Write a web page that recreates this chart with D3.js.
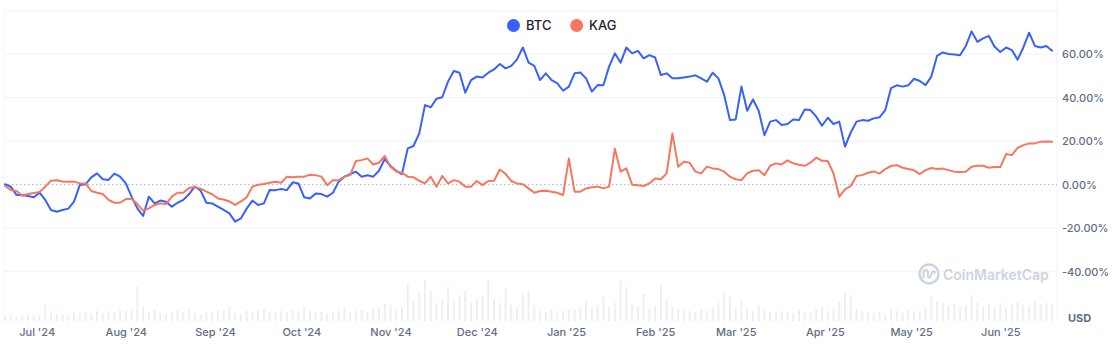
<!DOCTYPE html>
<html><head><meta charset="utf-8">
<script src="https://cdn.jsdelivr.net/npm/d3@7/dist/d3.min.js"></script>
<style>
html,body{margin:0;padding:0;background:#fff;}
svg{display:block;font-family:Inter,"Noto Sans",sans-serif;}
</style>
</head><body>
<svg id="chart" width="1112" height="348"></svg>
<script>
// ---------- DATA ----------
const startDate = "2024-06-20";
const endDate = "2025-06-20";
const stepDays = 2;
const seriesNames = ["BTC", "KAG"];

// % change since start, sampled every 2 days
const btc = [0.2,-0.9,-4.7,-4.7,-5.2,-5.8,-3.7,-7.0,-11.6,-12.4,-11.6,-11.0,-7.8,-0.1,0.2,3.4,5.2,2.5,2.2,5.1,
3.7,0.6,-5.5,-10.9,-14.4,-5.5,-8.6,-7.3,-7.8,-10.1,-8.3,-7.0,-4.3,-0.8,-2.7,-8.3,-8.6,-10.1,-11.6,-13.2,
-17.0,-15.5,-11.0,-7.3,-9.3,-8.6,-2.4,-2.5,-2.0,-2.5,1.1,0.6,-5.8,-6.3,-4.0,-4.3,-5.5,-3.7,1.4,3.7,
4.9,6.0,3.7,4.3,3.7,6.4,11.8,8.6,6.4,4.9,16.7,17.8,23.6,36.6,35.6,39.5,40.2,47.4,52.3,51.5,
42.3,48.1,49.7,49.3,51.5,53.0,55.5,53.5,54.6,57.6,63.1,56.1,54.6,48.1,51.2,48.1,46.6,43.2,45.1,51.2,
51.6,48.9,42.8,45.8,45.7,54.3,60.4,56.1,63.1,60.4,61.5,58.1,59.6,58.5,50.4,51.2,48.9,48.9,49.3,49.7,
50.3,48.9,47.4,51.5,48.9,41.2,29.7,30.0,45.1,34.0,39.2,34.0,22.8,29.0,29.7,27.4,27.9,30.0,29.7,34.6,
34.3,31.3,27.1,30.8,27.9,29.0,17.5,24.0,29.0,29.7,29.4,30.5,31.0,34.3,44.4,45.7,45.1,45.7,48.7,47.7,
45.8,49.7,59.2,60.8,60.1,59.9,59.5,63.8,70.5,65.7,67.3,68.4,63.4,61.0,63.1,61.9,57.5,63.1,69.9,63.8,
63.1,63.8,61.6];

const kag = [-0.6,-2.4,-2.9,-5.1,-4.3,-3.8,-3.4,-0.9,1.8,2.0,1.5,1.4,1.4,0.6,0.6,-2.9,-3.7,-4.3,-7.0,-8.3,
-8.3,-6.6,-6.6,-8.9,-11.9,-10.9,-9.3,-8.6,-8.9,-5.5,-3.7,-3.7,-1.5,-1.1,-1.8,-3.2,-4.4,-6.3,-6.8,-7.7,
-9.3,-7.7,-5.8,-0.9,0.0,0.3,0.9,1.4,0.9,3.7,3.4,3.7,3.7,4.6,4.4,3.7,-0.2,2.1,2.1,3.7,
4.4,10.9,11.3,12.1,9.3,10.1,13.2,8.3,6.1,5.5,3.7,3.4,1.8,0.6,3.7,-0.9,4.0,0.6,2.1,1.4,
-0.9,-0.9,1.7,-0.2,1.7,1.8,7.0,5.0,1.7,0.6,0.2,-1.7,-3.7,-2.9,-2.8,-3.2,-3.7,-4.8,12.0,-3.2,
-3.2,-1.7,-1.2,-0.9,-1.7,-0.9,16.5,6.0,7.5,0.0,-0.3,-0.6,0.6,2.9,2.5,5.2,23.5,8.3,10.6,10.1,
6.0,5.2,8.3,7.5,7.2,6.0,3.7,2.5,2.1,5.2,6.4,6.6,4.4,8.7,9.8,9.3,11.2,9.8,9.2,8.7,
10.1,12.4,11.0,10.9,5.2,-5.5,-2.1,-0.6,4.0,4.4,5.5,6.1,5.1,7.2,8.6,9.0,7.8,7.2,6.6,4.9,
6.7,7.7,7.2,7.4,6.7,6.0,5.8,6.0,8.3,8.7,8.7,7.8,8.1,8.1,14.1,13.6,16.9,18.2,19.0,19.0,
19.8,19.9,19.8];

// trading volume (billion USD), same 2-day sampling
const volume = [4,6,4,5,6,5,7,16,8,6,7,6,8,7,9,7,10,8,10,9,
11,10,12,34,14,9,11,8,7,9,11,9,12,8,7,9,8,10,11,15,
8,7,10,9,11,12,9,8,10,9,11,10,14,10,8,9,7,8,10,14,
9,10,11,9,12,14,17,16,12,14,37,20,28,41,30,18,22,34,20,26,
30,18,22,25,41,22,18,33,16,14,28,30,16,10,9,11,8,10,12,11,
14,20,13,16,24,14,18,40,34,16,14,27,12,15,36,22,15,13,12,10,
9,11,10,14,18,29,25,12,21,13,10,16,12,9,8,10,9,8,11,9,
8,12,14,10,13,20,29,26,12,10,9,8,9,7,12,10,8,11,9,10,
14,24,20,18,15,17,14,16,26,18,14,17,15,18,14,17,19,16,15,20,
17,18,16];

const monthTicks = ["2024-07-01","2024-08-01","2024-09-01","2024-10-01","2024-11-01","2024-12-01",
  "2025-01-01","2025-02-01","2025-03-01","2025-04-01","2025-05-01","2025-06-01"];
const yTickValues = [-40, -20, 0, 20, 40, 60];
const gridValues = [-40, -20, 20, 40, 60, 80];
const currencyLabel = "USD";
const watermarkText = "CoinMarketCap";

// ---------- DRAW ----------
const parse = d3.utcParse("%Y-%m-%d");
const t0 = parse(startDate);
const dateAt = i => d3.utcDay.offset(t0, i * stepDays);

const svg = d3.select("#chart");
const plotLeft = 4, plotRight = 1057;

const x = d3.scaleUtc().domain([t0, parse(endDate)]).range([5, 1055]);
const y = d3.scaleLinear().domain([-40, 60]).range([271.7, 54.2]);
const vy = d3.scaleLinear().domain([0, 40]).range([321, 281]);

const COLORS = {BTC: "#3861fb", KAG: "#f7765f"};

// grid
svg.append("g").selectAll("line").data(gridValues).join("line")
  .attr("x1", plotLeft).attr("x2", plotRight)
  .attr("y1", d => y(d)).attr("y2", d => y(d))
  .attr("stroke", "#eff2f5").attr("stroke-width", 1);

// borders
svg.append("line").attr("x1", plotRight).attr("x2", plotRight).attr("y1", 0).attr("y2", 321)
  .attr("stroke", "#eff2f5");
svg.append("line").attr("x1", plotLeft).attr("x2", plotLeft).attr("y1", y(80)).attr("y2", 321)
  .attr("stroke", "#f3f5f8");

// volume bars
svg.append("g").selectAll("rect").data(volume).join("rect")
  .attr("x", (d, i) => x(dateAt(i)) - 1)
  .attr("width", 2)
  .attr("y", d => vy(d))
  .attr("height", d => vy(0) - vy(d))
  .attr("fill", "#eceff3");

// watermark
const wm = svg.append("g").attr("transform", "translate(929,274)");
wm.append("circle").attr("r", 9.5).attr("fill", "none").attr("stroke", "#cdd4e0").attr("stroke-width", 2.4);
wm.append("path").attr("d", "M-5.5,4 L-5.5,-1 Q-5.5,-4 -3,-4 Q-1,-4 -1,-1 L-1,2 Q-1,4 1,3.5 L3.5,-2 Q5,-4 6,-1")
  .attr("fill", "none").attr("stroke", "#cdd4e0").attr("stroke-width", 2).attr("stroke-linecap", "round");
svg.append("text").attr("x", 943).attr("y", 275).attr("dy", "0.35em")
  .attr("font-size", 14).attr("font-weight", 600).attr("fill", "#cdd4e0")
  .text(watermarkText);

// zero line
svg.append("line").attr("x1", plotLeft).attr("x2", plotRight)
  .attr("y1", y(0)).attr("y2", y(0))
  .attr("stroke", "#a6b0c3").attr("stroke-width", 1).attr("stroke-dasharray", "1.5,2.5");

// lines
const line = d3.line().x((d, i) => x(dateAt(i))).y(d => y(d));
[["BTC", btc], ["KAG", kag]].forEach(([name, vals]) => {
  svg.append("path").datum(vals).attr("d", line)
    .attr("fill", "none").attr("stroke", COLORS[name]).attr("stroke-width", 2)
    .attr("stroke-linejoin", "round").attr("stroke-linecap", "round");
});

// right axis
const yAxis = d3.axisRight(y).tickValues(yTickValues).tickSize(0).tickPadding(5)
  .tickFormat(d => d.toFixed(2) + "%");
const ga = svg.append("g").attr("transform", `translate(${plotRight},0)`).call(yAxis);
ga.select(".domain").remove();
ga.selectAll("text").attr("font-family", "Inter, sans-serif").attr("font-size", 11)
  .attr("font-weight", 500).attr("fill", "#616e85");

svg.append("text").attr("x", 1068).attr("y", 318).attr("dy", "0.35em")
  .attr("font-size", 11).attr("font-weight", 700).attr("fill", "#616e85").text(currencyLabel);

// bottom axis
const xAxis = d3.axisBottom(x).tickValues(monthTicks.map(parse)).tickSize(0).tickPadding(0)
  .tickFormat(d3.utcFormat("%b '%y"));
const gx = svg.append("g").attr("transform", "translate(0,328)").call(xAxis);
gx.select(".domain").remove();
gx.selectAll("text").attr("font-family", "Inter, sans-serif").attr("font-size", 11)
  .attr("font-weight", 500).attr("fill", "#616e85");

// legend
const legend = svg.append("g");
const legendPos = [{name: seriesNames[0], cx: 513.5, tx: 526}, {name: seriesNames[1], cx: 576.7, tx: 589}];
legendPos.forEach(p => {
  legend.append("circle").attr("cx", p.cx).attr("cy", 25.5).attr("r", 6.5).attr("fill", COLORS[p.name]);
  legend.append("text").attr("x", p.tx).attr("y", 25.5).attr("dy", "0.35em")
    .attr("font-size", 13).attr("font-weight", 500).attr("fill", "#222531").text(p.name);
});
</script>
</body></html>
